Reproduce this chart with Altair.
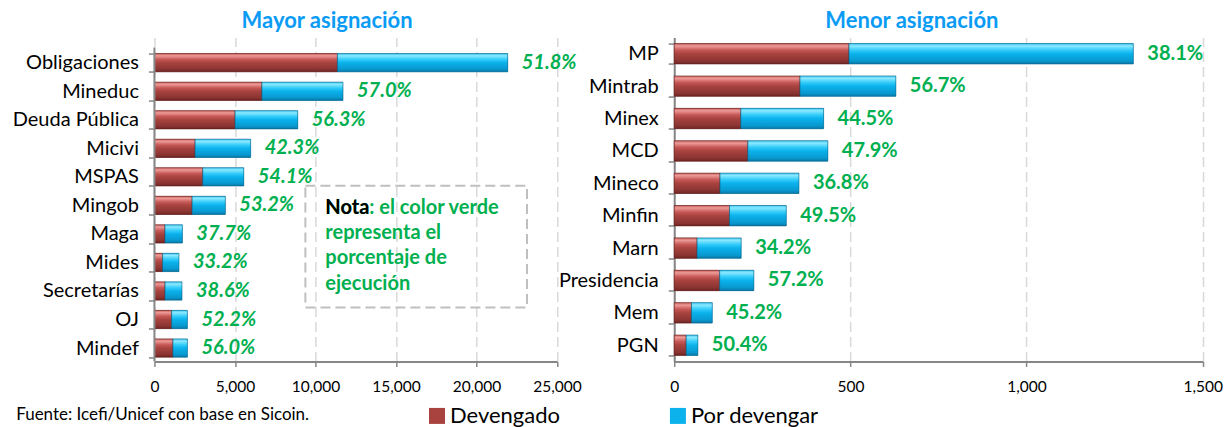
import altair as alt
import pandas as pd

FONT = "Lato"
GREEN = "#00B050"
TITLE_BLUE = "#0A9BF5"
AXIS_GREY = "#868686"

series = ["Devengado", "Por devengar"]

mayor_cat = ["Obligaciones", "Mineduc", "Deuda Pública", "Micivi", "MSPAS", "Mingob",
             "Maga", "Mides", "Secretarías", "OJ", "Mindef"]
mayor_dev = [11365, 6675, 5010, 2527, 3001, 2342, 654, 506, 660, 1068, 1146]
mayor_por = [10575, 5035, 3890, 3448, 2546, 2061, 1081, 1018, 1050, 978, 900]
mayor_pct = ["51.8%", "57.0%", "56.3%", "42.3%", "54.1%", "53.2%",
             "37.7%", "33.2%", "38.6%", "52.2%", "56.0%"]
mayor_ticks = [0, 5000, 10000, 15000, 20000, 25000]

menor_cat = ["MP", "Mintrab", "Minex", "MCD", "Mineco", "Minfin", "Marn",
             "Presidencia", "Mem", "PGN"]
menor_dev = [496, 357, 189, 209, 130, 157, 65, 129, 49, 34]
menor_por = [807, 272, 235, 227, 224, 161, 125, 97, 59, 33]
menor_pct = ["38.1%", "56.7%", "44.5%", "47.9%", "36.8%", "49.5%", "34.2%",
             "57.2%", "45.2%", "50.4%"]
menor_ticks = [0, 500, 1000, 1500]

nota_lines = ["Nota: el color verde", "representa el", "porcentaje de", "ejecución"]
fuente = "Fuente: Icefi/Unicef con base en Sicoin."

RED_GRAD = alt.Gradient(gradient="linear", x1=0, y1=0, x2=0, y2=1, stops=[
    alt.GradientStop(color="#C9625F", offset=0),
    alt.GradientStop(color="#EC9A97", offset=0.12),
    alt.GradientStop(color="#C65856", offset=0.32),
    alt.GradientStop(color="#A8433F", offset=0.5),
    alt.GradientStop(color="#8A3432", offset=0.85),
    alt.GradientStop(color="#6E2523", offset=1),
])
BLUE_GRAD = alt.Gradient(gradient="linear", x1=0, y1=0, x2=0, y2=1, stops=[
    alt.GradientStop(color="#43C9F2", offset=0),
    alt.GradientStop(color="#8AE8FF", offset=0.12),
    alt.GradientStop(color="#33CCFA", offset=0.32),
    alt.GradientStop(color="#0BB2EC", offset=0.5),
    alt.GradientStop(color="#0898CF", offset=0.85),
    alt.GradientStop(color="#0A77A6", offset=1),
])

LEGEND = alt.Legend(orient="none", legendX=271.7, legendY=367.5, direction="horizontal",
                    title=None, symbolType="square", symbolSize=256, symbolStrokeWidth=0,
                    labelFont=FONT, labelFontSize=22, labelColor="#000", labelOffset=2,
                    columnPadding=106, columns=2)


def panel(cats, dev, por, pct, ticks, width, height, p_in, p_out, align, title,
          title_dx, italic, own_domain):
    rows = []
    for c, d, p in zip(cats, dev, por):
        rows.append({"cat": c, "serie": series[0], "start": 0, "end": d})
        rows.append({"cat": c, "serie": series[1], "start": d, "end": d + p})
    bars = pd.DataFrame(rows)
    labels = pd.DataFrame({"cat": cats, "total": [d + p for d, p in zip(dev, por)],
                           "pct": pct})

    yenc = alt.Y("cat:N", sort=cats,
                 scale=alt.Scale(paddingInner=p_in, paddingOuter=p_out, align=align),
                 axis=alt.Axis(title=None, domain=not own_domain, domainColor=AXIS_GREY,
                               domainWidth=2, ticks=True, tickBand="extent",
                               tickColor=AXIS_GREY, tickWidth=1.5, tickSize=6,
                               labelFont=FONT, labelFontSize=20, labelColor="#000",
                               labelPadding=10, grid=False))
    xscale = alt.Scale(domain=[ticks[0], ticks[-1]], nice=False)
    xaxis = alt.Axis(values=ticks, format=",d", title=None, grid=True,
                     gridDash=[10, 5], gridColor="#D9D9D9", gridWidth=1.5,
                     domainColor=AXIS_GREY, domainWidth=2, tickColor=AXIS_GREY,
                     tickWidth=1.5, tickSize=5, labelFont=FONT, labelFontSize=15.5,
                     labelColor="#000", labelPadding=13, labelFlush=False)

    base = alt.Chart(bars).mark_bar().encode(
        y=yenc,
        x=alt.X("start:Q", scale=xscale, axis=xaxis),
        x2="end:Q",
        color=alt.Color("serie:N", scale=alt.Scale(domain=series,
                                                    range=["#A8433F", "#0BB2EC"]),
                        legend=LEGEND),
    )
    red = alt.Chart(bars).transform_filter(alt.datum.serie == series[0]).mark_bar(
        fill=RED_GRAD, stroke="#5E1F1D", strokeWidth=0.6).encode(
        y=alt.Y("cat:N", sort=cats), x=alt.X("start:Q"), x2="end:Q")
    blue = alt.Chart(bars).transform_filter(alt.datum.serie == series[1]).mark_bar(
        fill=BLUE_GRAD, stroke="#08638A", strokeWidth=0.6).encode(
        y=alt.Y("cat:N", sort=cats), x=alt.X("start:Q"), x2="end:Q")
    txt = alt.Chart(labels).mark_text(
        align="left", baseline="middle", dx=14, font=FONT, fontSize=20,
        fontWeight="bold", fontStyle="italic" if italic else "normal", color=GREEN
    ).encode(y=alt.Y("cat:N", sort=cats), x=alt.X("total:Q"), text="pct:N")

    layers = [base, red, blue, txt]
    one = pd.DataFrame({"a": [0]})
    if own_domain:
        layers.append(alt.Chart(one).mark_rule(color=AXIS_GREY, strokeWidth=2).encode(
            x=alt.value(0), y=alt.value(10), y2=alt.value(height)))
    return alt.layer(*layers).properties(
        width=width, height=height,
        title=alt.Title(title, fontSize=22, font=FONT, fontWeight="bold",
                        color=TITLE_BLUE, anchor="middle", frame="group",
                        dx=title_dx, offset=-5))


left = panel(mayor_cat, mayor_dev, mayor_por, mayor_pct, mayor_ticks, 402.7, 324,
             0.36, 0.355, 0.79, "Mayor asignación", -28.6, True, True)

one = pd.DataFrame({"a": [0]})
box = alt.Chart(one).mark_rect(fillOpacity=0, stroke="#BFBFBF", strokeWidth=2,
                               strokeDash=[10, 5]).encode(
    x=alt.value(151), x2=alt.value(372.7), y=alt.value(148.3), y2=alt.value(270))
nota_green = alt.Chart(one).mark_text(
    align="left", baseline="alphabetic", font=FONT, fontSize=20, fontWeight="bold",
    color=GREEN, lineHeight=25.5).encode(
    x=alt.value(171), y=alt.value(176), text=alt.value(nota_lines))
nota_black = alt.Chart(one).mark_text(
    align="left", baseline="alphabetic", font=FONT, fontSize=20, fontWeight="bold",
    color="#000").encode(x=alt.value(171), y=alt.value(176), text=alt.value("Nota"))
source = alt.Chart(one).mark_text(
    align="left", baseline="middle", font=FONT, fontSize=17, color="#000").encode(
    x=alt.value(-138.3), y=alt.value(378), text=alt.value(fuente))

left = alt.layer(left, box, nota_green, nota_black, source)

right = panel(menor_cat, menor_dev, menor_por, menor_pct, menor_ticks, 528.7, 324,
              0.37, 0.185, 0.5, "Menor asignación", -26.6, False, False)

chart = alt.hconcat(left, right, spacing=117, bounds="flush").resolve_scale(
    color="shared").resolve_legend(color="shared").properties(
    padding={"left": 3.5, "top": 1.5, "right": 0, "bottom": 0}
).configure_view(stroke=None)

chart.save("out.html", embed_options={"renderer": "svg", "actions": False})
